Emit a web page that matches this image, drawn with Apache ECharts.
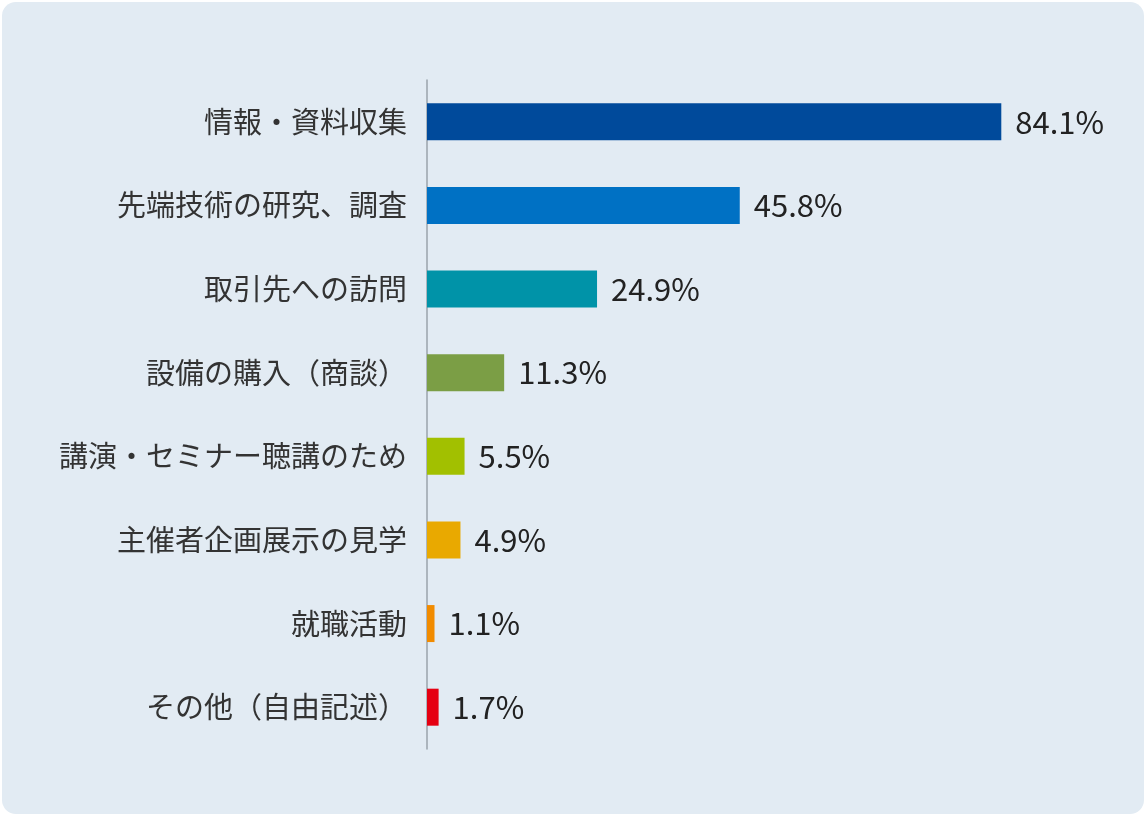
<!DOCTYPE html>
<html><head><meta charset="utf-8">
<script src="https://cdn.jsdelivr.net/npm/echarts@6/dist/echarts.min.js"></script>
<style>html,body{margin:0;padding:0;background:#fff}
#bg{position:absolute;left:2px;top:2px;width:1142px;height:812px;background:#e2ebf3;border-radius:14px}
#c{position:absolute;left:0;top:0;width:1146px;height:816px}</style></head>
<body><div id="bg"></div><div id="c"></div>
<script>
const categories=["情報・資料収集","先端技術の研究、調査","取引先への訪問","設備の購入（商談）","講演・セミナー聴講のため","主催者企画展示の見学","就職活動","その他（自由記述）"];
const values=[84.1,45.8,24.9,11.3,5.5,4.9,1.1,1.7];
const colors=["#004a9b","#0071c4","#0093a8","#7b9e45","#a2c000","#e9a900","#f18b00","#e50012"];
const chart=echarts.init(document.getElementById('c'));
chart.setOption({
 animation:false,
 grid:{left:427,right:45,top:80,bottom:67,containLabel:false},
 xAxis:{type:'value',min:0,max:98.7,show:false},
 yAxis:{type:'category',inverse:true,data:categories,
  axisLine:{lineStyle:{color:'#9aa3ab',width:1.5}},axisTick:{show:false},
  axisLabel:{color:'#333',fontSize:29,margin:20,fontFamily:'Noto Sans CJK JP'}},
 series:[{type:'bar',barWidth:37,
  data:values.map((v,i)=>({value:v,itemStyle:{color:colors[i]}})),
  label:{show:true,position:'right',distance:14,fontSize:31,color:'#222',fontFamily:'Noto Sans CJK JP',formatter:p=>p.value.toFixed(1)+'%'}}]
});
</script></body></html>
